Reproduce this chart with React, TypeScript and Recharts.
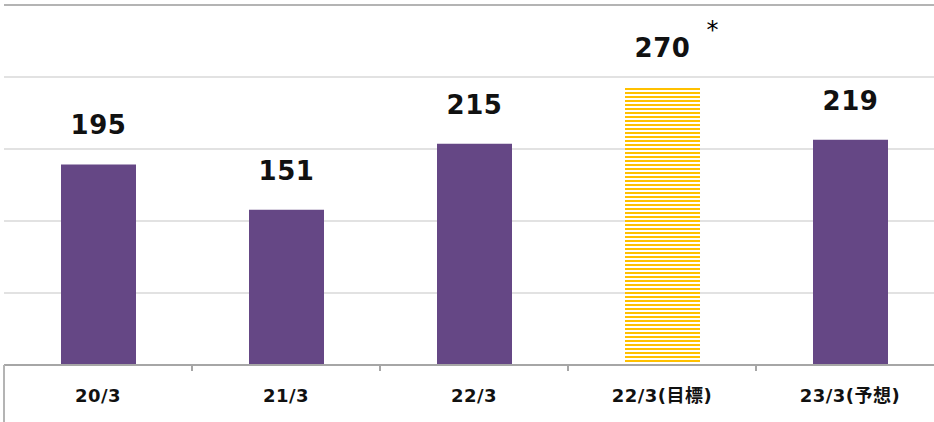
import { BarChart, Bar, XAxis, YAxis, CartesianGrid, LabelList, Cell, ReferenceLine } from 'recharts'

const categories = ['20/3', '21/3', '22/3', '22/3(目標)', '23/3(予想)']
const values = [195, 151, 215, 270, 219]
const isTarget = [false, false, false, true, false]
const notes = ['', '', '', '*', '']
const yTicks = [0, 70, 140, 210, 280, 350]

const data = categories.map((name, i) => ({ name, value: values[i], target: isTarget[i], note: notes[i] }))

const FONT = '"DejaVu Sans", "Noto Sans CJK JP", sans-serif'
const BAND = 188

function AxisTick(props: any) {
  const { x, y, payload, index } = props
  return (
    <g>
      {index === 0 && <line x1={x - BAND / 2} y1={y} x2={x - BAND / 2} y2={422} stroke="#b4b4b4" strokeWidth={2} />}
      <line x1={x + BAND / 2} y1={y} x2={x + BAND / 2} y2={y + 6} stroke="#a6a6a6" strokeWidth={2} />
      <text x={x} y={y + 37} textAnchor="middle" fontFamily={FONT} fontWeight="bold" fontSize={18} letterSpacing={0.5} fill="#111">
        {payload.value}
      </text>
    </g>
  )
}

function EmptyTick() {
  return <g />
}

function ValueLabel(props: any) {
  const { x, y, width, value, index } = props
  const cx = x + width / 2
  return (
    <g>
      <text x={cx} y={y - 30} textAnchor="middle" fontFamily={FONT} fontWeight="bold" fontSize={26} letterSpacing={0.5} fill="#111">
        {value}
      </text>
      {notes[index] && (
        <text x={cx + 50} y={y - 49} textAnchor="middle" fontFamily={FONT} fontSize={24} fill="#000">
          {notes[index]}
        </text>
      )}
    </g>
  )
}

export default function App() {
  return (
    <div style={{ position: 'absolute', left: 0, top: 0, width: 934, height: 422, overflow: 'hidden', background: '#fff' }}>
      <BarChart width={934} height={422} data={data} margin={{ top: 5, right: -10, left: 4, bottom: 0 }}>
        <defs>
          <pattern id="stripes" patternUnits="userSpaceOnUse" width={8} height={4}>
            <rect x={0} y={0} width={8} height={2} fill="#ffc000" />
          </pattern>
        </defs>
        <CartesianGrid vertical={false} stroke="#d9d9d9" strokeWidth={1.5} />
        <YAxis width={0} domain={[0, 350]} ticks={yTicks} tick={<EmptyTick />} tickLine={false} axisLine={{ stroke: '#b4b4b4', strokeWidth: 2 }} />
        <XAxis
          dataKey="name"
          height={57}
          tickLine={false}
          tickSize={0}
          tickMargin={0}
          axisLine={{ stroke: '#a6a6a6', strokeWidth: 2 }}
          tick={<AxisTick />}
          interval={0}
        />
        <ReferenceLine y={350} stroke="#b4b4b4" strokeWidth={2} />
        <Bar dataKey="value" barSize={75} isAnimationActive={false}>
          {data.map((d, i) => (
            <Cell key={i} fill={d.target ? 'url(#stripes)' : '#654785'} />
          ))}
          <LabelList dataKey="value" content={<ValueLabel />} />
        </Bar>
      </BarChart>
    </div>
  )
}
